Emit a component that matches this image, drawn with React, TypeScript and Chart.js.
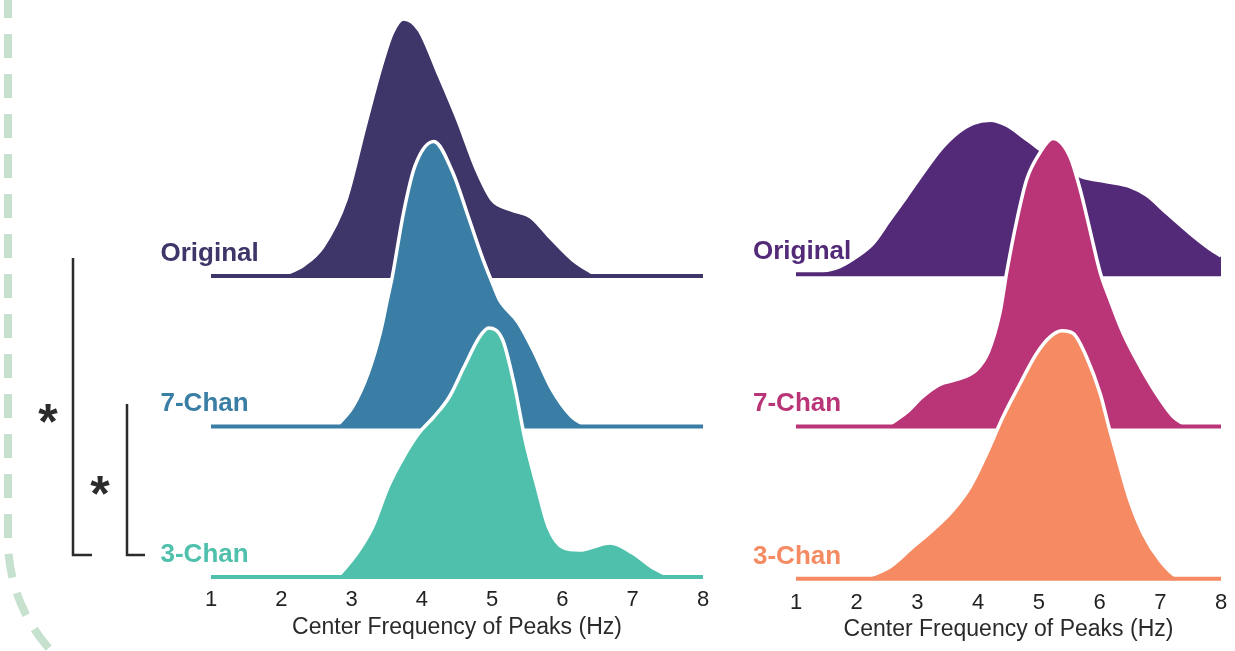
import React, { useEffect, useRef } from 'react';
import { Chart, registerables } from 'chart.js';

Chart.register(...registerables);

const FONT = "'Liberation Sans', Arial, Helvetica, sans-serif";

// ---------- data ----------
const ridgeNames = ['Original', '7-Chan', '3-Chan'];
const ridgeOffsets = [2, 1, 0];
const xTickMin = 1;
const xTickMax = 8;
const axisTitle = 'Center Frequency of Peaks (Hz)';

// left panel densities: [Hz, density] (density in ridge-spacing units)
const leftOriginal: [number, number][] = [
  [2.0, 0], [2.32, 0.073], [2.59, 0.193], [2.92, 0.505], [3.19, 0.99], [3.42, 1.389],
  [3.58, 1.615], [3.74, 1.708], [3.96, 1.635], [4.23, 1.349], [4.51, 1.037], [4.78, 0.704],
  [5.0, 0.505], [5.27, 0.439], [5.55, 0.392], [5.82, 0.259], [6.15, 0.106], [6.5, 0],
];
const left7Chan: [number, number][] = [
  [2.78, 0], [3.02, 0.133], [3.24, 0.359], [3.41, 0.625], [3.51, 0.844], [3.58, 0.997],
  [3.74, 1.422], [3.9, 1.728], [4.17, 1.894], [4.44, 1.688], [4.66, 1.395], [4.87, 1.11],
  [5.04, 0.91], [5.1, 0.844], [5.37, 0.691], [5.58, 0.512], [5.85, 0.246], [6.13, 0.066], [6.35, 0],
];
const left3Chan: [number, number][] = [
  [2.8, 0], [3.08, 0.159], [3.3, 0.332], [3.52, 0.598], [3.74, 0.797], [3.96, 0.957],
  [4.17, 1.063], [4.39, 1.196], [4.6, 1.395], [4.82, 1.595], [4.95, 1.655], [5.15, 1.575],
  [5.31, 1.289], [5.47, 0.91], [5.64, 0.598], [5.8, 0.332], [6.02, 0.193], [6.24, 0.179],
  [6.68, 0.226], [7.0, 0.159], [7.27, 0.066], [7.55, 0],
];

// right panel densities
const rightOriginal: [number, number][] = [
  [1.0, 0.005], [1.4, 0.017], [1.72, 0.05], [2.0, 0.116], [2.27, 0.204], [2.54, 0.355],
  [2.82, 0.51], [3.09, 0.664], [3.37, 0.815], [3.65, 0.926], [3.92, 0.992], [4.2, 1.012],
  [4.47, 0.979], [4.74, 0.904], [4.96, 0.838], [5.2, 0.77], [5.45, 0.69], [5.71, 0.641],
  [6.12, 0.608], [6.5, 0.576], [6.78, 0.519], [7.11, 0.401], [7.49, 0.269], [7.77, 0.181], [8.0, 0.12],
];
const right7Chan: [number, number][] = [
  [2.49, 0], [2.82, 0.092], [3.09, 0.197], [3.37, 0.276], [3.65, 0.309], [3.98, 0.375],
  [4.17, 0.49], [4.36, 0.749], [4.47, 1.012], [4.64, 1.36], [4.8, 1.623], [5.02, 1.8],
  [5.23, 1.892], [5.51, 1.774], [5.68, 1.557], [5.84, 1.294], [6.01, 1.012], [6.17, 0.834],
  [6.39, 0.611], [6.67, 0.394], [7.0, 0.177], [7.21, 0.066], [7.45, 0],
];
const right3Chan: [number, number][] = [
  [2.1, 0], [2.55, 0.079], [2.93, 0.21], [3.26, 0.322], [3.59, 0.453], [3.87, 0.604],
  [4.14, 0.821], [4.41, 1.064], [4.69, 1.281], [4.96, 1.478], [5.19, 1.59], [5.38, 1.629],
  [5.57, 1.61], [5.79, 1.452], [6.01, 1.216], [6.17, 0.972], [6.34, 0.729], [6.5, 0.512],
  [6.72, 0.296], [7.0, 0.118], [7.27, 0.013], [7.4, 0],
];

const leftColors = ['#3e3569', '#3a7ea5', '#4ec0ab'];
const rightColors = ['#532a78', '#b93577', '#f58a63'];

// ---------- plugins ----------
const ridgeLabelPlugin = {
  id: 'ridgeLabels',
  afterDatasetsDraw(chart: any, _args: any, opts: any) {
    const { ctx, scales } = chart;
    const xs = scales.x;
    const ys = scales.y;
    ctx.save();
    ctx.font = `bold 26px ${FONT}`;
    ctx.textAlign = 'left';
    ctx.textBaseline = 'alphabetic';
    (opts.items || []).forEach((it: any) => {
      ctx.fillStyle = it.color;
      ctx.fillText(it.text, xs.getPixelForValue(xTickMin) + opts.dx, ys.getPixelForValue(it.value) + opts.dy);
    });
    ctx.restore();
  },
};

const leftDecorPlugin = {
  id: 'leftDecor',
  afterDraw(chart: any) {
    const ctx = chart.ctx;
    ctx.save();
    // dashed arc of the surrounding figure
    ctx.strokeStyle = '#c6e1cd';
    ctx.lineWidth = 8;
    ctx.setLineDash([24, 16]);
    ctx.lineDashOffset = 6;
    ctx.beginPath();
    ctx.moveTo(8, 0);
    ctx.lineTo(8, 540);
    ctx.arc(172, 540, 164, Math.PI, Math.PI / 2 + 0.6, true);
    ctx.stroke();
    // significance brackets
    ctx.setLineDash([]);
    ctx.strokeStyle = '#2b2b2b';
    ctx.lineWidth = 2.5;
    ctx.lineJoin = 'miter';
    ctx.beginPath();
    ctx.moveTo(73, 258);
    ctx.lineTo(73, 555);
    ctx.lineTo(92, 555);
    ctx.stroke();
    ctx.beginPath();
    ctx.moveTo(127, 404);
    ctx.lineTo(127, 555);
    ctx.lineTo(145, 555);
    ctx.stroke();
    ctx.fillStyle = '#2b2b2b';
    ctx.font = `bold 50px ${FONT}`;
    ctx.textAlign = 'center';
    ctx.textBaseline = 'alphabetic';
    ctx.fillText('*', 48, 439);
    ctx.fillText('*', 100, 511);
    ctx.restore();
  },
};

function buildDatasets(series: [number, number][][], colors: string[]) {
  const ds: any[] = [];
  let order = 100;
  series.forEach((pts, i) => {
    const base = ridgeOffsets[i];
    ds.push({
      label: ridgeNames[i],
      data: pts.map(([x, y]) => ({ x, y: base + y })),
      borderColor: '#ffffff',
      borderWidth: 3.5,
      backgroundColor: colors[i],
      fill: { value: base },
      pointRadius: 0,
      cubicInterpolationMode: 'monotone',
      order: order--,
    });
    ds.push({
      label: ridgeNames[i] + ' baseline',
      data: [{ x: xTickMin, y: base }, { x: xTickMax, y: base }],
      borderColor: colors[i],
      borderWidth: 4,
      borderCapStyle: 'round',
      fill: false,
      pointRadius: 0,
      order: order--,
    });
  });
  return ds;
}

type PanelProps = {
  series: [number, number][][];
  colors: string[];
  left: number;
  width: number;
  padding: { left: number; right: number; top: number; bottom: number };
  yMin: number;
  yMax: number;
  tickPad: number;
  titlePad: number;
  labelDx: number;
  decor?: boolean;
};

function RidgePanel(p: PanelProps) {
  const ref = useRef<HTMLCanvasElement | null>(null);
  useEffect(() => {
    if (!ref.current) return;
    const plugins: any[] = [ridgeLabelPlugin];
    if (p.decor) plugins.push(leftDecorPlugin);
    const chart = new Chart(ref.current, {
      type: 'line',
      data: { datasets: buildDatasets(p.series, p.colors) },
      plugins,
      options: {
        animation: false,
        responsive: true,
        maintainAspectRatio: false,
        events: [],
        layout: { padding: p.padding },
        scales: {
          x: {
            type: 'linear',
            min: xTickMin,
            max: xTickMax,
            grid: { display: false },
            border: { display: false },
            ticks: { stepSize: 1, color: '#222', padding: p.tickPad, font: { family: FONT, size: 22 } },
            title: {
              display: true,
              text: axisTitle,
              color: '#2a2a2a',
              font: { family: FONT, size: 23 },
              padding: { top: 0, bottom: p.titlePad },
            },
            afterFit: (s: any) => { s.height = 60; },
          },
          y: { type: 'linear', display: false, min: p.yMin, max: p.yMax },
        },
        plugins: {
          legend: { display: false },
          tooltip: { enabled: false },
          ridgeLabels: {
            dx: p.labelDx,
            dy: -15,
            items: ridgeNames.map((t, i) => ({ text: t, color: p.colors[i], value: ridgeOffsets[i] })),
          },
        } as any,
      },
    } as any);
    return () => chart.destroy();
  }, []);
  return (
    <div style={{ position: 'absolute', left: p.left, top: 0, width: p.width, height: 651 }}>
      <canvas ref={ref} />
    </div>
  );
}

export default function App() {
  return (
    <div style={{ position: 'fixed', left: 0, top: 0, width: 1235, height: 651, background: '#fff', overflow: 'hidden' }}>
      <RidgePanel
        series={[leftOriginal, left7Chan, left3Chan]}
        colors={leftColors}
        left={0}
        width={740}
        padding={{ left: 211, right: 37, top: 5.1, bottom: 6.5 }}
        yMin={-0.05}
        yMax={3.8}
        tickPad={-6}
        titlePad={3.2}
        labelDx={-50.5}
        decor
      />
      <RidgePanel
        series={[rightOriginal, right7Chan, right3Chan]}
        colors={rightColors}
        left={740}
        width={495}
        padding={{ left: 56, right: 14, top: 46, bottom: 4.7 }}
        yMin={-0.05}
        yMax={3.5}
        tickPad={-5}
        titlePad={3.2}
        labelDx={-43}
      />
    </div>
  );
}
